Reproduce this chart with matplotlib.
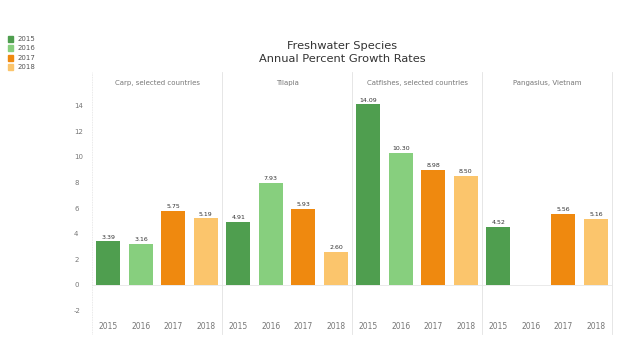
import matplotlib.pyplot as plt
import numpy as np
from matplotlib.patches import Rectangle

# Data
species = ["Carp, selected countries", "Tilapia", "Catfishes, selected countries", "Pangasius, Vietnam"]
years = ["2015", "2016", "2017", "2018"]
carp = [3.39, 3.16, 5.75, 5.19]
tilapia = [4.91, 7.93, 5.93, 2.60]
catfish = [14.09, 10.30, 8.98, 8.50]
pangasius = [4.52, np.nan, 5.56, 5.16]
year_colors = ["#4f9e4f", "#87cf7e", "#ef890f", "#fbc56c"]
y_ticks = [-2, 0, 2, 4, 6, 8, 10, 12, 14]

values = [carp, tilapia, catfish, pangasius]

fig = plt.figure(figsize=(6.4, 3.4), dpi=100)
ax = fig.add_axes([0.144, 0.068, 0.8125, 0.659])

n_years = len(years)
for i, vals in enumerate(values):
    x = i * n_years + np.arange(n_years)
    for xi, v, c in zip(x, vals, year_colors):
        if np.isnan(v):
            continue
        ax.bar(xi, v, width=0.74, color=c)
        ax.text(xi, v + 0.15, f"{v:.2f}", ha="center", va="bottom", fontsize=4.5, color="#333333")

ax.set_xlim(-0.5, len(species) * n_years - 0.5)
ax.set_ylim(-2.5, 15)
ax.set_yticks(y_ticks)
ax.set_yticklabels([str(t) for t in y_ticks], fontsize=5, color="#777777")
ax.set_xticks(np.arange(len(species) * n_years))
ax.set_xticklabels(years * len(species), fontsize=5.5, color="#777777")
ax.tick_params(length=0, pad=4)
ax.tick_params(axis="y", pad=8)
for lbl in ax.get_yticklabels():
    lbl.set_horizontalalignment("left")
ax.yaxis.set_tick_params(pad=13)
for s in ax.spines.values():
    s.set_visible(False)
ax.axhline(0, color="#e6e6e6", lw=0.6, zorder=0)
ax.axhline(-2.5, color="#e6e6e6", lw=0.6, zorder=0)

# panel separators and headers
for i in range(len(species) + 1):
    xs = i * n_years - 0.5
    ax.plot([xs, xs], [-3.8, 16.6], color="#e2e2e2", lw=0.6, clip_on=False,
            ls=(0, (1, 1)) if i == 0 else "-")
for i, name in enumerate(species):
    ax.text(i * n_years + 1.5, 15.8, name, ha="center", va="center", fontsize=5, color="#777777")

fig.text(0.535, 0.845, "Freshwater Species\nAnnual Percent Growth Rates", ha="center", va="center",
         fontsize=8.2, color="#333333", linespacing=1.35)

# legend
for j, (yr, c) in enumerate(zip(years, year_colors)):
    yy = 1 - (39 + j * 9.3) / 340
    fig.patches.append(Rectangle((0.012, yy - 0.009), 0.009, 0.018, transform=fig.transFigure,
                                 color=c, figure=fig))
    fig.text(0.027, yy, yr, fontsize=5, va="center", color="#555555")

plt.savefig("out.png", dpi=100)
